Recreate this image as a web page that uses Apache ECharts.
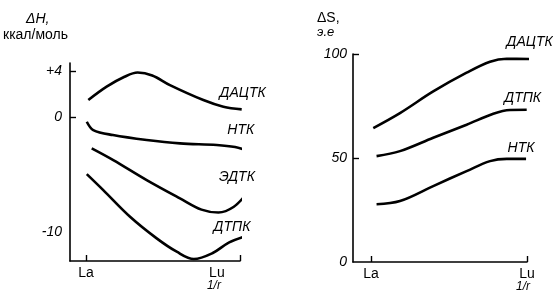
<!DOCTYPE html>
<html><head><meta charset="utf-8">
<script src="https://cdn.jsdelivr.net/npm/echarts@6/dist/echarts.min.js"></script>
<style>html,body{margin:0;padding:0;background:#fff}#c{width:553px;height:293px}</style>
</head><body><div id="c"></div>
<script>
// x: position between La (0) and Lu (1) on the 1/r scale
// Left panel: ΔH, kcal/mol
const leftNames = ['ДАЦТК', 'НТК', 'ЭДТК', 'ДТПК'];
const dH_DACTK = [[0.015,1.48],[0.134,2.64],[0.25,3.50],[0.335,3.87],[0.43,3.62],[0.545,2.78],[0.762,1.48],[0.892,0.90],[1.011,0.67]];
const dH_NTK   = [[0.005,-0.41],[0.047,-1.13],[0.175,-1.57],[0.394,-2.0],[0.610,-2.29],[0.849,-2.43],[0.968,-2.61],[1.044,-2.91]];
const dH_EDTK  = [[0.037,-2.72],[0.177,-3.74],[0.394,-5.48],[0.610,-7.07],[0.75,-8.05],[0.86,-8.30],[0.96,-7.80],[1.045,-6.63]];
const dH_DTPK  = [[0.005,-4.96],[0.112,-6.35],[0.286,-8.67],[0.459,-10.55],[0.589,-11.71],[0.70,-12.35],[0.82,-11.85],[0.93,-10.90],[1.039,-10.35]];
const leftTicks = [-10, 0, 4];
// Right panel: ΔS, e.u.
const rightNames = ['ДАЦТК', 'ДТПК', 'НТК'];
const dS_DACTK = [[0.015,64.4],[0.186,71.6],[0.399,82.0],[0.613,91.0],[0.763,96.3],[0.870,97.7],[1.030,97.6]];
const dS_DTPK  = [[0.036,50.9],[0.186,53.3],[0.399,59.7],[0.613,66.0],[0.784,71.3],[0.891,73.1],[0.998,73.2]];
const dS_NTK   = [[0.036,27.8],[0.186,29.3],[0.399,36.5],[0.613,43.7],[0.763,48.5],[0.870,49.6],[0.994,49.6]];
const rightTicks = [0, 50, 100];

const FONT = 'Liberation Sans, Arial, sans-serif';
const chart = echarts.init(document.getElementById('c'));
const axisLine = {onZero: false, lineStyle: {color: '#000', width: 1.6}};
function line(name, data, xi, yi) {
  return {type: 'line', name, data, xAxisIndex: xi, yAxisIndex: yi, smooth: 0.35,
    showSymbol: false, clip: false, lineStyle: {color: '#000', width: 2.6}};
}
const tickStyle = {color: '#000', width: 1.4};
function xLabel(pad) {
  return {margin: 5, color: '#000', fontFamily: FONT,
    formatter: v => v === 0 ? '{a|La}' : '{a|Lu}\n{b|1/r}',
    rich: {a: {fontSize: 14, lineHeight: 14, fontFamily: FONT, color: '#000'},
           b: {fontSize: 12, lineHeight: 12, fontStyle: 'italic', fontFamily: FONT, color: '#000', padding: [0, pad, 0, 0]}}};
}
chart.setOption({
  animation: false,
  backgroundColor: '#fff',
  grid: [
    {left: 70, right: 313, top: 63, bottom: 32},
    {left: 353, right: 26, top: 54, bottom: 30}
  ],
  xAxis: [
    {gridIndex: 0, type: 'value', min: -0.104, max: 1, splitLine: {show: false}, axisLine,
     axisTick: {inside: true, length: 6, customValues: [0, 1], lineStyle: tickStyle},
     axisLabel: Object.assign(xLabel(6), {customValues: [0, 0.85]})},
    {gridIndex: 1, type: 'value', min: -0.115, max: 1, splitLine: {show: false}, axisLine,
     axisTick: {inside: true, length: 6, customValues: [0, 1], lineStyle: tickStyle},
     axisLabel: Object.assign(xLabel(8), {customValues: [0, 1]})}
  ],
  yAxis: [
    {gridIndex: 0, type: 'value', min: -12.52, max: 4.70, splitLine: {show: false}, axisLine,
     axisTick: {inside: true, length: 6, customValues: [0, 4], lineStyle: tickStyle},
     axisLabel: {customValues: leftTicks, margin: 8, color: '#000', fontSize: 14, fontStyle: 'italic', fontFamily: FONT,
       formatter: v => v > 0 ? '+' + v : String(v)}},
    {gridIndex: 1, type: 'value', min: 0, max: 100, splitLine: {show: false}, axisLine,
     axisTick: {inside: true, length: 6, customValues: [50, 100], lineStyle: tickStyle},
     axisLabel: {customValues: rightTicks, margin: 6, color: '#000', fontSize: 14, fontStyle: 'italic', fontFamily: FONT}}
  ],
  series: [
    line(leftNames[0], dH_DACTK, 0, 0), line(leftNames[1], dH_NTK, 0, 0),
    line(leftNames[2], dH_EDTK, 0, 0), line(leftNames[3], dH_DTPK, 0, 0),
    line(rightNames[0], dS_DACTK, 1, 1), line(rightNames[1], dS_DTPK, 1, 1), line(rightNames[2], dS_NTK, 1, 1)
  ]
});
// curve name labels, positioned relative to each curve's last point
const leftSets = [dH_DACTK, dH_NTK, dH_EDTK, dH_DTPK];
const leftOff = [[1,-16],[-6,-20],[-10,-16],[-14,-9]];
const rightSets = [dS_DACTK, dS_DTPK, dS_NTK];
const rightOff = [[-2,-17],[-4,-12],[-5,-11]];
const texts = [];
function addLabels(names, sets, offs, gi) {
  names.forEach((n, i) => {
    const last = sets[i][sets[i].length - 1];
    const p = chart.convertToPixel({gridIndex: gi}, last);
    texts.push({type: 'text', x: p[0] + offs[i][0], y: p[1] + offs[i][1],
      style: {text: n, fill: '#000', font: 'italic 14px ' + FONT, align: 'center', verticalAlign: 'middle'}});
  });
}
addLabels(leftNames, leftSets, leftOff, 0);
addLabels(rightNames, rightSets, rightOff, 1);
texts.push({type: 'text', x: 26, y: 19, style: {text: 'ΔH,', fill: '#000', font: 'italic 14px ' + FONT, verticalAlign: 'middle'}});
texts.push({type: 'text', x: 3, y: 35, style: {text: 'ккал/моль', fill: '#000', font: '14px ' + FONT, verticalAlign: 'middle'}});
texts.push({type: 'text', x: 317, y: 18, style: {text: 'ΔS,', fill: '#000', font: '14px ' + FONT, verticalAlign: 'middle'}});
texts.push({type: 'text', x: 317, y: 32, style: {text: 'э.е', fill: '#000', font: 'italic 13px ' + FONT, verticalAlign: 'middle'}});
chart.setOption({graphic: texts});
</script></body></html>
